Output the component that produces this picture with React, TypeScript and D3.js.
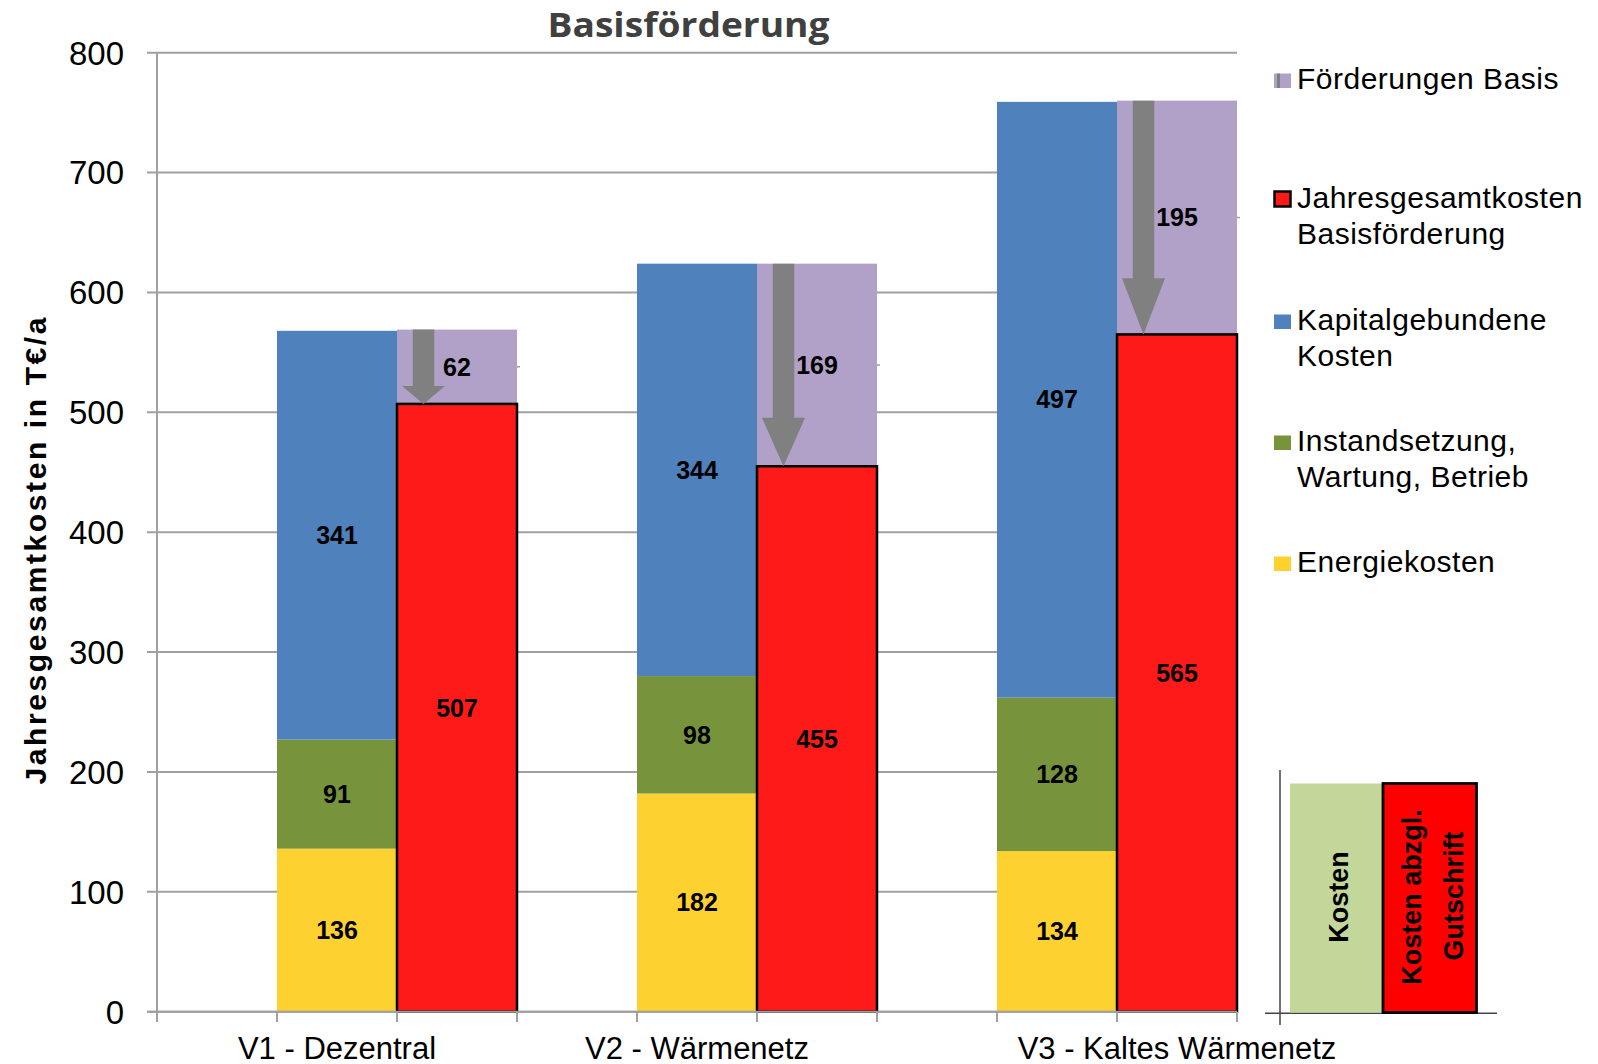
import React from "react";
import * as d3 from "d3";

const categories = ["V1 - Dezentral", "V2 - Wärmenetz", "V3 - Kaltes Wärmenetz"];
const energiekosten = [136, 182, 134];
const instandsetzung = [91, 98, 128];
const kapitalkosten = [341, 344, 497];
const jahreskosten = [507, 455, 565];
const foerderung = [62, 169, 195];
const yTicks = [0, 100, 200, 300, 400, 500, 600, 700, 800];
const labelShift = [0, 0, 1];

const legendEntries = [
  { key: "foerd", lines: ["Förderungen Basis"], baseline: 89 },
  { key: "jahr", lines: ["Jahresgesamtkosten", "Basisförderung"], baseline: 208 },
  { key: "kap", lines: ["Kapitalgebundene", "Kosten"], baseline: 330 },
  { key: "inst", lines: ["Instandsetzung,", "Wartung, Betrieb"], baseline: 451 },
  { key: "en", lines: ["Energiekosten"], baseline: 572 },
];

const C = {
  yellow: "#FDD12F",
  green: "#77933C",
  blue: "#4F81BD",
  red: "#FF1A1A",
  purple: "#B1A0C7",
  arrow: "#808080",
  grid: "#A0A0A0",
  insetGreen: "#C4D79B",
  insetRed: "#FF0000",
};

const FONT = "'Liberation Sans', Arial, sans-serif";

export default function App() {
  const W = 1598, H = 1064;
  const y = d3.scaleLinear().domain([0, 800]).range([1011.7, 52.7]);
  const x = d3.scaleBand<number>().domain(d3.range(9)).range([157, 1237]).paddingInner(0).paddingOuter(0);
  const bw = x.bandwidth();

  const boundaries = d3.range(10).map((i) => 157 + i * bw);

  const valueLabel = (xc: number, v0: number, v1: number, val: number, key: string) => (
    <text key={key} x={xc} y={(y(v0) + y(v1)) / 2} dy="0.35em" textAnchor="middle"
      fontFamily={FONT} fontWeight="bold" fontSize={25} fill="#000">{val}</text>
  );

  return (
    <svg width={W} height={H} style={{ position: "absolute", left: 0, top: 0, background: "#fff" }}>
      {/* gridlines */}
      {yTicks.map((t) => (
        <line key={"g" + t} x1={147} x2={1237} y1={y(t)} y2={y(t)} stroke={C.grid} strokeWidth={2} />
      ))}
      {/* bars */}
      {categories.map((c, i) => {
        const xc = x(3 * i + 1)!;
        const xr = x(3 * i + 2)!;
        const e = energiekosten[i], ins = instandsetzung[i], k = kapitalkosten[i];
        const j = jahreskosten[i], f = foerderung[i];
        const cx = xr + 26.5;
        const yTop = y(j + f), yTip = y(j);
        const len = yTip - yTop;
        const head = 0.24 * len;
        const arrow = `M${cx - 10.75},${yTop} L${cx + 10.75},${yTop} L${cx + 10.75},${yTip - head} L${cx + 21.5},${yTip - head} L${cx},${yTip} L${cx - 21.5},${yTip - head} L${cx - 10.75},${yTip - head} Z`;
        return (
          <g key={c}>
            <rect x={xc} width={bw} y={y(e)} height={y(0) - y(e)} fill={C.yellow} />
            <rect x={xc} width={bw} y={y(e + ins)} height={y(e) - y(e + ins)} fill={C.green} />
            <rect x={xc} width={bw} y={y(e + ins + k)} height={y(e + ins) - y(e + ins + k)} fill={C.blue} />
            <rect x={xr} width={bw} y={y(j + f)} height={y(j) - y(j + f)} fill={C.purple} />
            <rect x={xr} width={bw} y={y(j)} height={y(0) - y(j)} fill={C.red} stroke="#000" strokeWidth={2.5} />
            <path d={arrow} fill={C.arrow} />
            <line x1={xr + bw} x2={xr + bw + 3} y1={(y(j) + y(j + f)) / 2} y2={(y(j) + y(j + f)) / 2} stroke={C.grid} strokeWidth={1.5} />
            {valueLabel(xc + bw / 2, 0, e, e, "le" + i)}
            {valueLabel(xc + bw / 2, e, e + ins, ins, "li" + i)}
            {valueLabel(xc + bw / 2, e + ins, e + ins + k, k, "lk" + i)}
            {valueLabel(xr + bw / 2, 0, j, j, "lj" + i)}
            {valueLabel(xr + bw / 2, j, j + f, f, "lf" + i)}
          </g>
        );
      })}
      {/* axes */}
      <line x1={157} x2={157} y1={y(800)} y2={1022} stroke={C.grid} strokeWidth={2} />
      <line x1={147} x2={1237} y1={y(0)} y2={y(0)} stroke={C.grid} strokeWidth={2} />
      {boundaries.map((b, i) => (
        <line key={"t" + i} x1={b} x2={b} y1={y(0)} y2={1022} stroke={C.grid} strokeWidth={2} />
      ))}
      {yTicks.map((t) => (
        <text key={"yl" + t} x={124} y={y(t)} dy="0.36em" textAnchor="end" fontFamily={FONT} fontSize={33} fill="#000">{t}</text>
      ))}
      {categories.map((c, i) => {
        const gx = (x(3 * i)! + x(3 * i + 2)! + bw) / 2 + labelShift[i] * bw;
        return (
          <text key={"xl" + i} x={gx} y={1058.5} textAnchor="middle" fontFamily={FONT} fontSize={31} fill="#000">{c}</text>
        );
      })}
      {/* y axis title */}
      <text transform={`translate(46,551) rotate(-90)`} textAnchor="middle" fontFamily={FONT} fontWeight="bold"
        fontSize={30} fill="#000" textLength={467} lengthAdjust="spacing">Jahresgesamtkosten in T€/a</text>
      {/* title */}
      <text x={688.5} y={37} textAnchor="middle" fontFamily="'Open Sans', sans-serif" fontWeight="bold" fontSize={34}
        fill="#404040" textLength={282} lengthAdjust="spacingAndGlyphs">Basisförderung</text>
      {/* legend */}
      {legendEntries.map((le) => (
        <g key={le.key}>
          {le.key === "jahr" ? (
            <rect x={1274.5} y={le.baseline - 16.5} width={16} height={15} fill={C.red} stroke="#000" strokeWidth={2.5} />
          ) : (
            <rect x={1274} y={le.baseline - 15.5} width={17} height={14.5}
              fill={le.key === "foerd" ? C.purple : le.key === "kap" ? C.blue : le.key === "inst" ? C.green : C.yellow} />
          )}
          {le.key === "foerd" && <rect x={1277} y={le.baseline - 15.5} width={3} height={14.5} fill="#7f7f7f" />}
          {le.lines.map((ln, k) => (
            <text key={k} x={1297} y={le.baseline + k * 35.5} fontFamily={FONT} fontSize={30} letterSpacing={0.5} fill="#000">{ln}</text>
          ))}
        </g>
      ))}
      {/* inset */}
      <line x1={1280} x2={1280} y1={770} y2={1025} stroke="#444" strokeWidth={1.5} />
      <line x1={1265} x2={1497} y1={1013.3} y2={1013.3} stroke="#444" strokeWidth={1.5} />
      <rect x={1290} y={783.5} width={93} height={229} fill={C.insetGreen} />
      <rect x={1383} y={783.5} width={93.5} height={229} fill={C.insetRed} stroke="#000" strokeWidth={2.8} />
      <text transform="translate(1348,897) rotate(-90)" textAnchor="middle" fontFamily={FONT} fontWeight="bold" fontSize={27} fill="#000">Kosten</text>
      <text transform="translate(1421,897) rotate(-90)" textAnchor="middle" fontFamily={FONT} fontWeight="bold" fontSize={27} fill="#000">Kosten abzgl.</text>
      <text transform="translate(1463,896) rotate(-90)" textAnchor="middle" fontFamily={FONT} fontWeight="bold" fontSize={27} fill="#000">Gutschrift</text>
    </svg>
  );
}
